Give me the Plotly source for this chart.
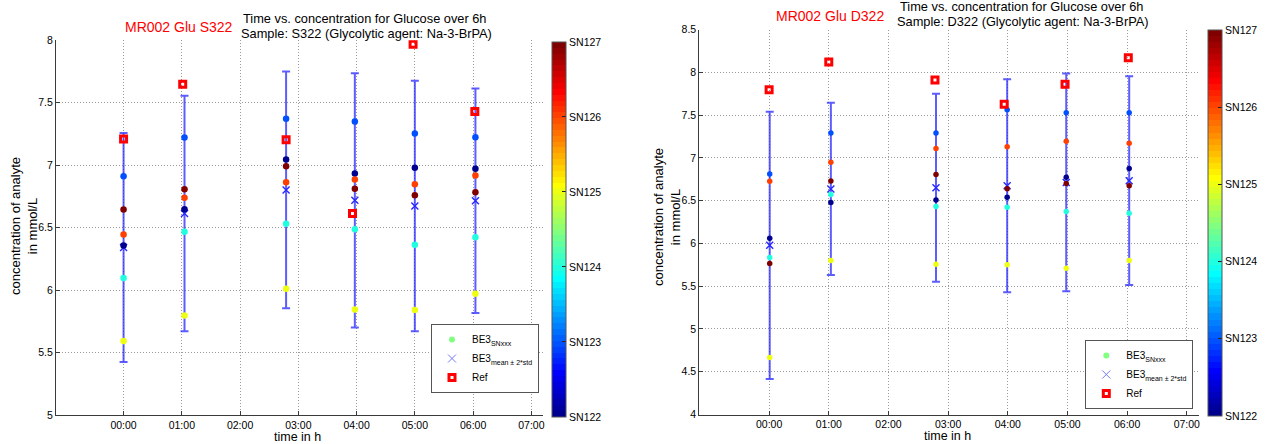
import numpy as np
import plotly.graph_objects as go

# ---- data -----------------------------------------------------------------
sensor_ids = [122, 123, 124, 125, 126, 127]
sensor_names = ["SN122", "SN123", "SN124", "SN125", "SN126", "SN127"]
tick_hours = [0, 1, 2, 3, 4, 5, 6, 7]
tick_text = ["00:00", "01:00", "02:00", "03:00", "04:00", "05:00", "06:00", "07:00"]

# Sample S322: sampling times (h), one row of glucose readings (mmol/L) per sensor
s322_time = [0.0, 1.046, 2.79, 3.97, 5.0, 6.04]
s322_sensors = [
    [6.357, 6.648, 7.045, 6.933, 6.979, 6.971],  # SN122
    [6.912, 7.221, 7.371, 7.349, 7.253, 7.224],  # SN123
    [6.096, 6.467, 6.531, 6.488, 6.363, 6.424],  # SN124
    [5.592, 5.797, 6.011, 5.845, 5.840, 5.971],  # SN125
    [6.445, 6.739, 6.864, 6.885, 6.848, 6.917],  # SN126
    [6.645, 6.808, 6.992, 6.811, 6.760, 6.784],  # SN127
]
s322_ref_time = [0.0, 1.015, 2.79, 3.93, 4.97, 6.03]
s322_ref = [7.21, 7.648, 7.203, 6.613, 7.968, 7.429]

# Sample D322
d322_time = [0.01, 1.035, 2.797, 3.99, 4.98, 6.035]
d322_sensors = [
    [6.061, 6.477, 6.508, 6.539, 6.773, 6.874],  # SN122
    [6.812, 7.291, 7.291, 7.563, 7.528, 7.528],  # SN123
    [5.834, 6.570, 6.430, 6.423, 6.372, 6.353],  # SN124
    [4.666, 5.799, 5.757, 5.749, 5.710, 5.799],  # SN125
    [6.726, 6.949, 7.108, 7.131, 7.194, 7.170],  # SN126
    [5.764, 6.730, 6.804, 6.640, 6.699, 6.675],  # SN127
]
d322_ref_time = [0.0, 1.0, 2.78, 3.94, 4.96, 6.02]
d322_ref = [7.797, 8.120, 7.910, 7.626, 7.860, 8.171]

s322_yticks = [5, 5.5, 6, 6.5, 7, 7.5, 8]
s322_yticktext = ["5", "5.5", "6", "6.5", "7", "7.5", "8"]
d322_yticks = [4, 4.5, 5, 5.5, 6, 6.5, 7, 7.5, 8, 8.5]
d322_yticktext = ["4", "4.5", "5", "5.5", "6", "6.5", "7", "7.5", "8", "8.5"]

W, H = 1268, 444
FONT = "Liberation Sans, Arial, Helvetica, sans-serif"


def jet(n=64):
    """MATLAB-style jet colormap with n entries."""
    m = int(np.ceil(n / 4))
    u = np.concatenate([np.arange(1, m + 1) / m, np.ones(m - 1), np.arange(m, 0, -1) / m])
    g = int(np.ceil(n / 8)) - (1 if n % 4 == 1 else 0) + np.arange(1, len(u) + 1)
    r = g + m
    b = g - m
    g = g[g <= n]
    r = r[r <= n]
    b = b[b >= 1]
    J = np.zeros((n, 3))
    J[r - 1, 0] = u[: len(r)]
    J[g - 1, 1] = u[: len(g)]
    J[b - 1, 2] = u[len(u) - len(b):]
    return J


cmap = jet(64)
jet_scale = []
for i, c in enumerate(cmap):
    col = "rgb(%d,%d,%d)" % tuple(np.round(c * 255).astype(int))
    jet_scale.append([i / 64, col])
    jet_scale.append([(i + 1) / 64, col])


def px_x(x):
    return x / W


def px_y(y):
    return 1 - y / H


fig = go.Figure()

panels = [
    dict(time=s322_time, sens=s322_sensors, rt=s322_ref_time, ref=s322_ref,
         xa="x", ya="y", legend="legend", cb_x=551.7, cb_top=41.7, cb_bot=417,
         dot=6.5),
    dict(time=d322_time, sens=d322_sensors, rt=d322_ref_time, ref=d322_ref,
         xa="x2", ya="y2", legend="legend2", cb_x=1207.7, cb_top=30, cb_bot=416,
         dot=5.5),
]

for p in panels:
    t = np.array(p["time"])
    vals = np.array(p["sens"])
    mean = vals.mean(axis=0)
    two_std = 2 * vals.std(axis=0, ddof=1)

    # mean with +/- 2*std error bars
    fig.add_trace(go.Scatter(
        x=t, y=mean, mode="markers", xaxis=p["xa"], yaxis=p["ya"],
        showlegend=False,
        marker=dict(symbol="x-thin", size=7, line=dict(color="rgb(40,40,255)", width=1.4)),
        error_y=dict(type="data", array=two_std, visible=True,
                     color="rgba(30,30,255,0.72)", thickness=2, width=4),
    ))

    # individual sensor readings, coloured by sensor number
    xs = np.tile(t, len(sensor_ids))
    ys = vals.flatten()
    cs = np.repeat(sensor_ids, len(t))
    fig.add_trace(go.Scatter(
        x=xs, y=ys, mode="markers", xaxis=p["xa"], yaxis=p["ya"],
        showlegend=False,
        marker=dict(
            size=p["dot"], color=cs, colorscale=jet_scale, cmin=122, cmax=127,
            line=dict(width=0),
            colorbar=dict(
                x=px_x(p["cb_x"]), xanchor="left", xpad=0,
                y=px_y((p["cb_top"] + p["cb_bot"]) / 2), yanchor="middle", ypad=0,
                len=(p["cb_bot"] - p["cb_top"]) / H, lenmode="fraction",
                thickness=14, outlinewidth=1, outlinecolor="#555555",
                tickvals=sensor_ids, ticktext=sensor_names,
                ticks="inside", ticklen=4, tickcolor="#222222",
                tickfont=dict(family=FONT, size=10.5, color="black"),
            ),
        ),
    ))

    # reference analyser values
    fig.add_trace(go.Scatter(
        x=p["rt"], y=p["ref"], mode="markers", xaxis=p["xa"], yaxis=p["ya"],
        showlegend=False,
        marker=dict(symbol="square-open", size=6, color="red",
                    line=dict(color="red", width=3)),
    ))

    # legend entries
    fig.add_trace(go.Scatter(
        x=[None], y=[None], mode="markers", xaxis=p["xa"], yaxis=p["ya"],
        name="BE3<sub>SNxxx</sub>", legend=p["legend"],
        marker=dict(size=6, color="rgb(128,255,128)"),
    ))
    fig.add_trace(go.Scatter(
        x=[None], y=[None], mode="markers", xaxis=p["xa"], yaxis=p["ya"],
        name="BE3<sub>mean ± 2*std</sub>", legend=p["legend"],
        marker=dict(symbol="x-thin", size=8, line=dict(color="rgb(120,120,255)", width=1)),
    ))
    fig.add_trace(go.Scatter(
        x=[None], y=[None], mode="markers", xaxis=p["xa"], yaxis=p["ya"],
        name="Ref", legend=p["legend"],
        marker=dict(symbol="square-open", size=6, color="red",
                    line=dict(color="red", width=3)),
    ))

axis_common = dict(
    showgrid=True, griddash="1px,2px", gridcolor="#9a9a9a", gridwidth=1,
    showline=True, linecolor="#3a3a3a", linewidth=1,
    ticks="inside", ticklen=4, tickcolor="#3a3a3a",
    zeroline=False, mirror=False, automargin=False,
    tickfont=dict(family=FONT, size=10.5, color="black"),
)

legend_common = dict(
    xanchor="right", yanchor="bottom",
    bgcolor="white", bordercolor="#555555", borderwidth=1,
    font=dict(family=FONT, size=10, color="black"),
    tracegroupgap=0, itemwidth=30,
)

fig.update_layout(
    width=W, height=H,
    margin=dict(l=0, r=0, t=0, b=0, autoexpand=False),
    paper_bgcolor="white", plot_bgcolor="white",
    font=dict(family=FONT, color="black"),
    xaxis=dict(domain=[px_x(56), px_x(543)], range=[-1.16, 7.2], anchor="y",
               tickvals=tick_hours, ticktext=tick_text, **axis_common),
    yaxis=dict(domain=[px_y(415), px_y(40.3)], range=[5, 8], anchor="x",
               tickvals=s322_yticks, ticktext=s322_yticktext, **axis_common),
    xaxis2=dict(domain=[px_x(699.3), px_x(1198.7)], range=[-1.17, 7.2], anchor="y2",
                tickvals=tick_hours, ticktext=tick_text, **axis_common),
    yaxis2=dict(domain=[px_y(414.5), px_y(29.5)], range=[4, 8.5], anchor="x2",
                tickvals=d322_yticks, ticktext=d322_yticktext, **axis_common),
    legend=dict(x=px_x(539), y=px_y(393), **legend_common),
    legend2=dict(x=px_x(1193.3), y=px_y(409), **legend_common),
    showlegend=True,
)

annotations = []


def text(x, y, s, size, color="black", angle=0):
    annotations.append(dict(
        x=px_x(x), y=px_y(y), xref="paper", yref="paper", text=s,
        showarrow=False, xanchor="center", yanchor="middle", textangle=angle,
        font=dict(family=FONT, size=size, color=color),
    ))


# panel titles
text(178.5, 27, "MR002 Glu S322", 14, "red")
text(365, 18, "Time vs. concentration for Glucose over 6h", 12.8)
text(366, 33, "Sample: S322 (Glycolytic agent: Na-3-BrPA)", 12.8)
text(829.5, 16, "MR002 Glu D322", 14, "red")
text(1022, 6.5, "Time vs. concentration for Glucose over 6h", 12.8)
text(1023, 21.5, "Sample: D322 (Glycolytic agent: Na-3-BrPA)", 12.8)

# axis labels
text(297, 436.5, "time in h", 12.5)
text(947.5, 436, "time in h", 12.5)
text(24, 226, "concentration of analyte<br>in mmol/L", 13, angle=-90)
text(667, 217, "concentration of analyte<br>in mmol/L", 13, angle=-90)

fig.update_layout(annotations=annotations)

fig.write_html("out.html")
